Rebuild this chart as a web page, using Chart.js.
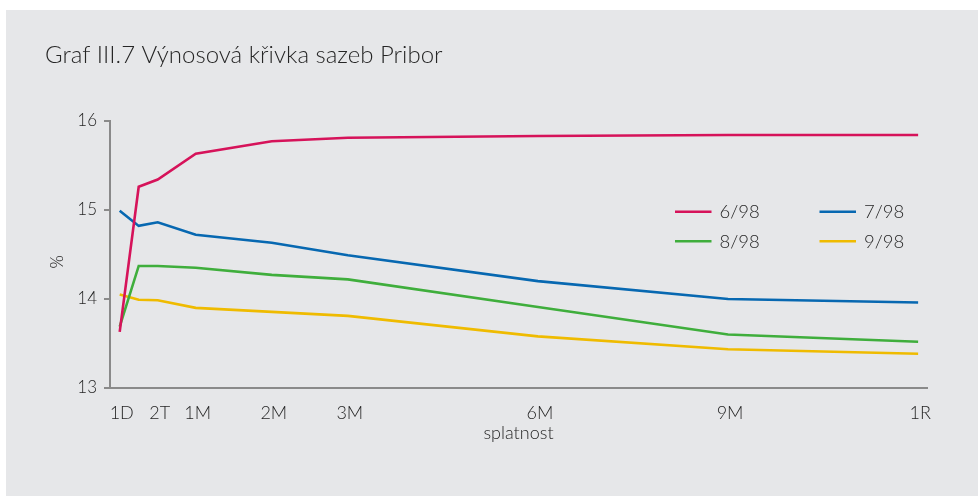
<!DOCTYPE html>
<html><head><meta charset="utf-8">
<script src="https://cdn.jsdelivr.net/npm/chart.js@4"></script>
<style>
html,body{margin:0;padding:0;background:#fff;overflow:hidden;}
#bg{position:absolute;left:6px;top:10px;width:972px;height:486px;background:#e6e7e9;}
#wrap{position:absolute;left:0;top:0;width:978px;height:496px;}
</style></head><body>
<div id="bg"></div>
<div id="wrap"><canvas id="c" width="978" height="496"></canvas></div>
<script>
// Maturities (tenors) and their positions along the original chart's horizontal axis
const tenors = ['1D','1T','2T','1M','2M','3M','6M','9M','1R'];
const tenorX = [-0.6, -0.3, 0, 0.6, 1.8, 3, 6, 9, 12];
const tickTenors = ['1D','2T','1M','2M','3M','6M','9M','1R'];
const seriesNames = ['6/98','7/98','8/98','9/98'];
// PRIBOR rates, %
const jun98 = [13.63, 15.26, 15.34, 15.63, 15.77, 15.81, 15.83, 15.84, 15.84];
const jul98 = [14.99, 14.82, 14.86, 14.72, 14.63, 14.49, 14.20, 14.00, 13.96];
const aug98 = [13.69, 14.37, 14.37, 14.35, 14.27, 14.22, 13.91, 13.60, 13.52];
const sep98 = [14.05, 13.99, 13.985, 13.90, 13.855, 13.81, 13.58, 13.435, 13.385];
const yTicks = [13, 14, 15, 16];

const colors = ['#d6135a', '#0768b1', '#3fae3c', '#efbb00'];
const FONT = 'Lato, "Open Sans", sans-serif';
const W = '300';
const TXT = '#262626';
const AXIS = '#8a8a8a';

const allSeries = [jun98, jul98, aug98, sep98];
const datasets = allSeries.map((vals, i) => ({
  label: seriesNames[i],
  data: vals.map((v, j) => ({x: tenorX[j], y: v})),
  borderColor: colors[i],
  backgroundColor: colors[i],
  borderWidth: 2.6,
  pointRadius: 0,
  tension: 0,
  fill: false
}));

const legendPlugin = {
  id: 'innerLegend',
  afterDatasetsDraw(chart) {
    const ctx = chart.ctx;
    const ca = chart.chartArea;
    ctx.save();
    ctx.font = W + ' 18.5px ' + FONT;
    ctx.fillStyle = TXT;
    ctx.textBaseline = 'middle';
    ctx.textAlign = 'left';
    chart.data.datasets.forEach((ds, i) => {
      const col = i % 2, row = Math.floor(i / 2);
      const x0 = ca.left + 565 + col * 144.5;
      const y = ca.top + 91 + row * 29.5;
      ctx.strokeStyle = ds.borderColor;
      ctx.lineWidth = 2.6;
      ctx.beginPath();
      ctx.moveTo(x0, y);
      ctx.lineTo(x0 + 36.5, y);
      ctx.stroke();
      ctx.fillText(ds.label, x0 + 44.5, y + 0.5);
    });
    ctx.restore();
  }
};

new Chart(document.getElementById('c'), {
  type: 'line',
  data: { datasets },
  plugins: [legendPlugin],
  options: {
    responsive: false,
    animation: false,
    events: [],
    layout: { padding: { left: 45, right: 51, top: 0, bottom: 50 } },
    plugins: {
      legend: { display: false },
      tooltip: { enabled: false },
      title: {
        display: true,
        text: 'Graf III.7 Výnosová křivka sazeb Pribor',
        align: 'start',
        color: TXT,
        font: { family: FONT, size: 24, weight: W },
        padding: { top: 41, bottom: 51 }
      }
    },
    scales: {
      x: {
        type: 'linear',
        min: -0.753,
        max: 12.14,
        afterBuildTicks: (s) => { s.ticks = tickTenors.map(t => ({ value: tenorX[tenors.indexOf(t)] })); },
        afterFit: (s) => { s.height = 58; },
        ticks: {
          autoSkip: false,
          maxRotation: 0,
          padding: 6,
          labelOffset: 2,
          color: TXT,
          font: { family: FONT, size: 18, weight: W },
          callback: (v, i) => tickTenors[i]
        },
        grid: { display: false },
        border: { display: true, color: AXIS, width: 2 },
        title: {
          display: true,
          text: 'splatnost',
          color: TXT,
          font: { family: FONT, size: 18, weight: W },
          padding: { top: 0, bottom: 2 }
        }
      },
      y: {
        min: 13,
        max: 16,
        afterBuildTicks: (s) => { s.ticks = yTicks.map(v => ({ value: v })); },
        afterFit: (s) => { s.width = 65; },
        ticks: {
          padding: 7,
          color: TXT,
          font: { family: FONT, size: 17, weight: W },
          callback: (v) => String(v)
        },
        grid: {
          display: true,
          drawOnChartArea: false,
          drawTicks: true,
          tickLength: 6,
          color: AXIS,
          lineWidth: 2
        },
        border: { display: true, color: AXIS, width: 2 },
        title: {
          display: true,
          text: '%\u2003\u2009',
          color: TXT,
          font: { family: FONT, size: 17, weight: W },
          padding: { top: 2, bottom: 0 }
        }
      }
    }
  }
});
</script>
</body></html>
